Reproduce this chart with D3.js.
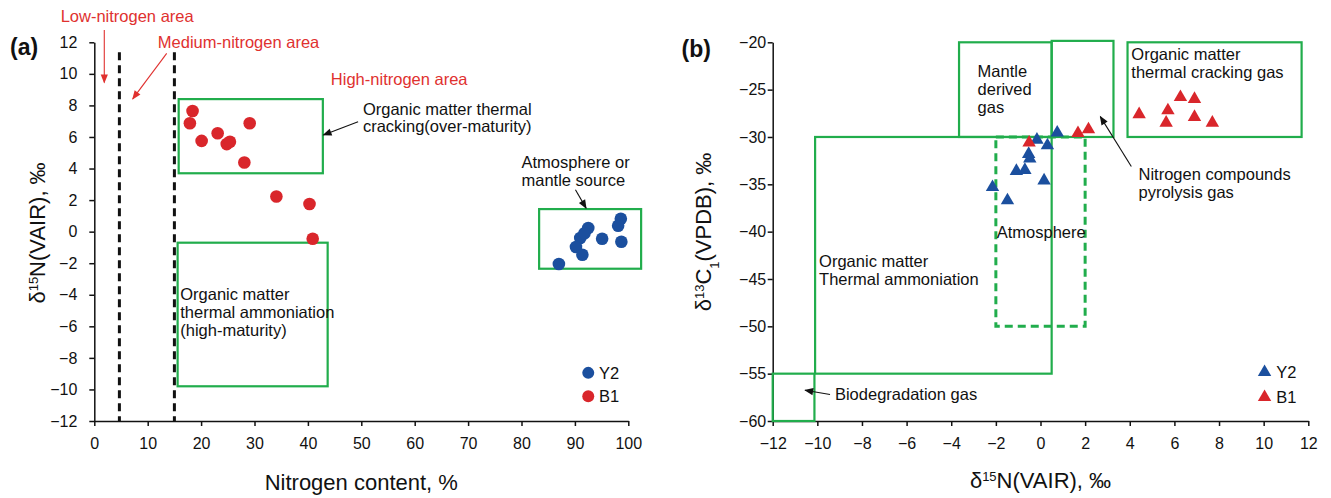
<!DOCTYPE html>
<html>
<head>
<meta charset="utf-8">
<script src="https://cdn.jsdelivr.net/npm/d3@7"></script>
<style>
  body { margin: 0; background: #fff; }
  svg { display: block; font-family: "Liberation Sans", Arial, sans-serif; }
</style>
</head>
<body>
<svg id="chart" width="1331" height="498"></svg>
<script>
// ---- panel (a): nitrogen content vs d15N ----
let a_xTicks = d3.range(0, 101, 10);
let a_yTicks = d3.range(-12, 13, 2);
let a_B1_N = [18.4, 17.9, 20.1, 23.1, 24.8, 25.4, 29.1, 28.1, 34.1, 40.3, 40.9];
let a_B1_d15N = [7.65, 6.87, 5.75, 6.24, 5.55, 5.7, 6.87, 4.38, 2.23, 1.75, -0.45];
let a_Y2_N = [87.0, 92.5, 91.0, 90.2, 91.4, 95.1, 98.6, 98.1, 98.7, 91.8];
let a_Y2_d15N = [-2.05, 0.23, -0.4, -0.97, -1.46, -0.45, 0.82, 0.37, -0.64, -0.1];
// area boundaries (nitrogen content, %)
let a_bounds = [4.7, 15];
// genetic regions [xmin, xmax, ymin, ymax]
let a_regions = [[15.8, 42.8, 3.7, 8.4], [15.6, 43.7, -9.8, -0.7], [83.3, 102.4, -2.35, 1.43]];

// ---- panel (b): d15N vs d13C1 ----
let b_xTicks = d3.range(-12, 13, 2);
let b_yTicks = d3.range(-60, -19, 5);
let b_Y2_d15N = [-2.15, -1.48, -1.08, -0.7, -0.53, -0.48, -0.16, 0.31, 0.16, 0.75];
let b_Y2_d13C = [-35.3, -36.7, -33.6, -33.5, -31.8, -32.3, -30.3, -30.9, -34.6, -29.55];
let b_B1_d15N = [-0.51, 1.68, 2.15, 4.42, 5.71, 5.63, 6.27, 6.9, 6.9, 7.7];
let b_B1_d13C = [-30.6, -29.6, -29.2, -27.6, -27.2, -28.5, -25.8, -26.0, -27.9, -28.5];
let b_regions = [[-3.65, 0.5, -30, -20], [0.5, 3.27, -30, -19.85], [3.9, 11.7, -30, -20],
                 [-10.1, 0.5, -55, -30], [-12, -10.13, -60, -55]];
let b_atmosphere = [-2, 2, -50, -30];

const red = "#d9262b", blue = "#1b4f9e", green = "#21ad4c", txtRed = "#e0312f";

let svg = d3.select("#chart");

let defs = svg.append("defs");
[["arrBlack", "#111"], ["arrRed", txtRed]].forEach(function(m) {
  defs.append("marker").attr("id", m[0])
    .attr("viewBox", "0 0 10 10").attr("refX", 9).attr("refY", 5)
    .attr("markerWidth", 10).attr("markerHeight", 9).attr("markerUnits", "userSpaceOnUse")
    .attr("orient", "auto")
    .append("path").attr("d", "M0,1 L10,5 L0,9 Z").attr("fill", m[1]);
});

let xA = d3.scaleLinear().domain([0, 100]).range([94.3, 628.3]);
let yA = d3.scaleLinear().domain([-12, 12]).range([421, 42.3]);
let xB = d3.scaleLinear().domain([-12, 12]).range([772.7, 1308.3]);
let yB = d3.scaleLinear().domain([-60, -20]).range([421, 42.3]);

function styleAxis(g) {
  g.attr("font-family", null).attr("font-size", null);
  g.select(".domain").attr("stroke", "#111").attr("stroke-width", 1.5);
  g.selectAll(".tick line").attr("stroke", "#111").attr("stroke-width", 1.5);
  g.selectAll(".tick text").attr("fill", "#111").style("font-size", "16px");
}

function drawAxes(x, y, xt, yt, ypad) {
  svg.append("g").attr("transform", "translate(0," + y.range()[0] + ")")
    .call(d3.axisBottom(x).tickValues(xt).tickSize(5).tickPadding(11.5).tickSizeOuter(0))
    .call(styleAxis);
  svg.append("g").attr("transform", "translate(" + x.range()[0] + ",0)")
    .call(d3.axisLeft(y).tickValues(yt).tickSize(5).tickPadding(ypad).tickSizeOuter(0))
    .call(styleAxis);
}

function drawRegions(x, y, regions, dashed) {
  svg.append("g").selectAll("rect").data(regions).join("rect")
    .attr("x", d => x(d[0])).attr("width", d => x(d[1]) - x(d[0]))
    .attr("y", d => y(d[3])).attr("height", d => y(d[2]) - y(d[3]))
    .attr("fill", "none").attr("stroke", green)
    .attr("stroke-width", dashed ? 3 : 2.2)
    .attr("stroke-dasharray", dashed ? "8,5" : null);
}

function label(x, y, px, py, lines, opts) {
  opts = opts || {};
  let t = svg.append("text").attr("x", x(px)).attr("y", y(py))
    .attr("fill", opts.color || "#111").style("font-size", (opts.size || 16.5) + "px");
  lines.forEach(function(s, i) {
    t.append("tspan").attr("x", x(px)).attr("dy", i === 0 ? 0 : (opts.lh || 18)).text(s);
  });
  return t;
}

function arrow(x, y, p0, p1, color, marker) {
  svg.append("line")
    .attr("x1", x(p0[0])).attr("y1", y(p0[1]))
    .attr("x2", x(p1[0])).attr("y2", y(p1[1]))
    .attr("stroke", color).attr("stroke-width", 1.1)
    .attr("marker-end", "url(#" + marker + ")");
}

// ===== panel (a) =====
drawAxes(xA, yA, a_xTicks, a_yTicks, 12);

svg.append("g").selectAll("line").data(a_bounds).join("line")
  .attr("x1", d => xA(d)).attr("x2", d => xA(d))
  .attr("y1", yA(11.37)).attr("y2", yA(-12))
  .attr("stroke", "#111").attr("stroke-width", 3).attr("stroke-dasharray", "8,5");

drawRegions(xA, yA, a_regions, false);

svg.append("g").selectAll("circle").data(d3.zip(a_Y2_N, a_Y2_d15N)).join("circle")
  .attr("cx", d => xA(d[0])).attr("cy", d => yA(d[1])).attr("r", 6.3).attr("fill", blue);
svg.append("g").selectAll("circle").data(d3.zip(a_B1_N, a_B1_d15N)).join("circle")
  .attr("cx", d => xA(d[0])).attr("cy", d => yA(d[1])).attr("r", 6.3).attr("fill", red);

label(xA, yA, -6.3, 13.3, ["Low-nitrogen area"], {color: txtRed});
arrow(xA, yA, [1.87, 12.78], [1.87, 9.45], txtRed, "arrRed");
label(xA, yA, 11.9, 11.66, ["Medium-nitrogen area"], {color: txtRed});
arrow(xA, yA, [13.56, 11.3], [7.19, 8.41], txtRed, "arrRed");
label(xA, yA, 44.3, 9.3, ["High-nitrogen area"], {color: txtRed});
label(xA, yA, 50.3, 7.4, ["Organic matter thermal", "cracking(over-maturity)"], {lh: 17});
arrow(xA, yA, [49.4, 6.97], [42.9, 6.13], "#111", "arrBlack");
label(xA, yA, 80.0, 4.03, ["Atmosphere or", "mantle source"], {lh: 17.5});
arrow(xA, yA, [90.1, 2.65], [92.1, 1.49], "#111", "arrBlack");
label(xA, yA, 16.1, -4.31, ["Organic matter", "thermal ammoniation", "(high-maturity)"], {lh: 18.3});

// legend (a)
[["Y2", blue, -8.95], ["B1", red, -10.43]].forEach(function(l) {
  svg.append("circle").attr("cx", xA(92.5)).attr("cy", yA(l[2])).attr("r", 6).attr("fill", l[1]);
  svg.append("text").attr("x", xA(94.5)).attr("y", yA(l[2])).attr("dy", "0.36em")
    .style("font-size", "16.5px").attr("fill", "#111").text(l[0]);
});

svg.append("text").attr("x", 10).attr("y", 55).style("font-size", "23px")
  .attr("font-weight", "bold").attr("fill", "#111").text("(a)");

let ylabA = svg.append("text").attr("transform", "translate(45,233) rotate(-90)")
  .attr("text-anchor", "middle").style("font-size", "22px").attr("fill", "#111");
ylabA.append("tspan").text("δ");
ylabA.append("tspan").attr("baseline-shift", "super").style("font-size", "13px").text("15");
ylabA.append("tspan").text("N(VAIR), ‰");

svg.append("text").attr("x", d3.mean(xA.range())).attr("y", 489.5).attr("text-anchor", "middle")
  .style("font-size", "22px").attr("fill", "#111").text("Nitrogen content, %");

// ===== panel (b) =====
drawAxes(xB, yB, b_xTicks, b_yTicks, 1.5);
drawRegions(xB, yB, b_regions, false);
drawRegions(xB, yB, [b_atmosphere], true);

let tri = d3.symbol().type(d3.symbolTriangle).size(78);
svg.append("g").selectAll("path").data(d3.zip(b_Y2_d15N, b_Y2_d13C)).join("path")
  .attr("transform", d => "translate(" + xB(d[0]) + "," + yB(d[1]) + ")")
  .attr("d", tri).attr("fill", blue);
svg.append("g").selectAll("path").data(d3.zip(b_B1_d15N, b_B1_d13C)).join("path")
  .attr("transform", d => "translate(" + xB(d[0]) + "," + yB(d[1]) + ")")
  .attr("d", tri).attr("fill", red);

label(xB, yB, -2.82, -23.63, ["Mantle", "derived", "gas"], {lh: 18.3});
label(xB, yB, 4.07, -21.87, ["Organic matter", "thermal cracking gas"], {lh: 18.3});
label(xB, yB, 4.39, -34.53, ["Nitrogen compounds", "pyrolysis gas"], {lh: 18.3});
arrow(xB, yB, [4.07, -33.12], [2.68, -27.85], "#111", "arrBlack");
label(xB, yB, -1.96, -40.68, ["Atmosphere"]);
label(xB, yB, -9.92, -43.73, ["Organic matter", "Thermal ammoniation"], {lh: 17.7});
label(xB, yB, -9.21, -57.8, ["Biodegradation gas"]);
arrow(xB, yB, [-9.43, -57.2], [-10.55, -56.75], "#111", "arrBlack");

// legend (b)
[["Y2", blue, -54.85], ["B1", red, -57.49]].forEach(function(l) {
  svg.append("path").attr("transform", "translate(" + xB(10.04) + "," + yB(l[2]) + ")")
    .attr("d", tri).attr("fill", l[1]);
  svg.append("text").attr("x", xB(10.56)).attr("y", yB(l[2])).attr("dy", "0.36em")
    .style("font-size", "16.5px").attr("fill", "#111").text(l[0]);
});

svg.append("text").attr("x", 681.5).attr("y", 56.7).style("font-size", "23px")
  .attr("font-weight", "bold").attr("fill", "#111").text("(b)");

let ylabB = svg.append("text").attr("transform", "translate(711,232) rotate(-90)")
  .attr("text-anchor", "middle").style("font-size", "22px").attr("fill", "#111");
ylabB.append("tspan").text("δ");
ylabB.append("tspan").attr("baseline-shift", "super").style("font-size", "13px").text("13");
ylabB.append("tspan").attr("baseline-shift", "0").text("C");
ylabB.append("tspan").attr("baseline-shift", "sub").style("font-size", "13px").text("1");
ylabB.append("tspan").text("(VPDB), ‰");

let xlabB = svg.append("text").attr("x", d3.mean(xB.range())).attr("y", 488).attr("text-anchor", "middle")
  .style("font-size", "22px").attr("fill", "#111");
xlabB.append("tspan").text("δ");
xlabB.append("tspan").attr("baseline-shift", "super").style("font-size", "13px").text("15");
xlabB.append("tspan").text("N(VAIR), ‰");
</script>
</body>
</html>
